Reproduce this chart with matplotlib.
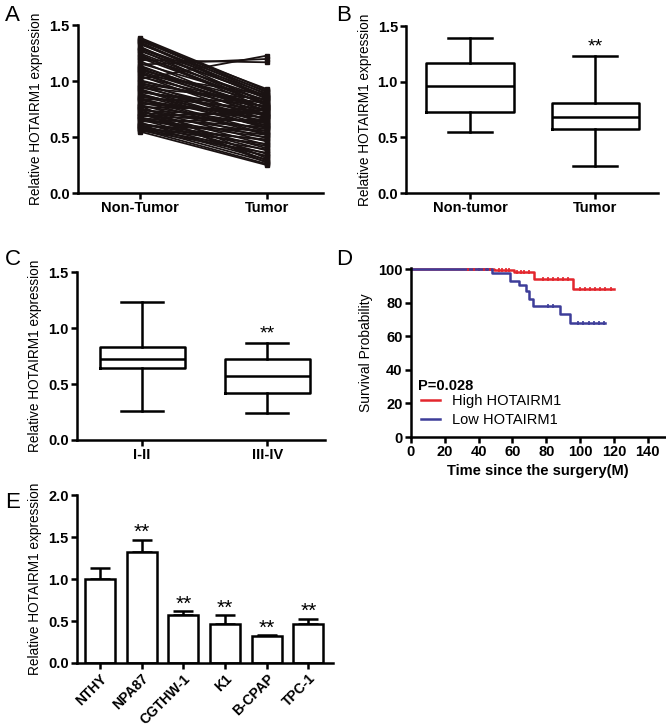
import matplotlib
matplotlib.use('Agg')
import matplotlib.pyplot as plt
import numpy as np

plt.rcParams['font.family'] = ['Liberation Sans', 'DejaVu Sans']
plt.rcParams['font.size'] = 10

# Panel A: paired samples
pair_labels = ['Non-Tumor', 'Tumor']
nontumor = [1.39, 1.38, 1.37, 1.36, 1.35, 1.34, 1.33, 1.31, 1.30, 1.28,
            1.27, 1.25, 1.24, 1.22, 1.21, 1.19, 1.18, 1.16, 1.15, 1.13,
            1.12, 1.10, 1.09, 1.08, 1.06, 1.05, 1.04, 1.02, 1.01, 0.99,
            0.98, 0.97, 0.95, 0.94, 0.93, 0.91, 0.90, 0.89, 0.88, 0.86,
            0.85, 0.84, 0.83, 0.82, 0.80, 0.79, 0.78, 0.77, 0.76, 0.75,
            0.74, 0.73, 0.72, 0.71, 0.70, 0.69, 0.68, 0.67, 0.66, 0.65,
            0.64, 0.63, 0.62, 0.61, 0.60, 0.59, 0.58, 0.57, 0.56, 0.55,
            1.29, 1.23, 1.14, 1.07, 1.00, 0.96, 0.87, 0.81, 0.78, 0.72,
            0.69, 0.66, 0.62, 0.60, 0.58, 0.57, 0.92, 0.84, 1.11, 0.75]
tumor = [0.92, 0.90, 0.88, 0.93, 0.86, 0.84, 0.91, 0.80, 0.89, 0.78,
         0.87, 0.82, 0.75, 0.85, 0.79, 1.17, 0.72, 0.83, 1.20, 0.76,
         0.70, 0.81, 0.74, 0.68, 0.88, 0.65, 0.77, 1.23, 0.73, 0.62,
         0.80, 0.69, 0.66, 0.84, 0.60, 0.71, 0.78, 0.58, 0.64, 0.75,
         0.55, 0.82, 0.67, 0.52, 0.70, 0.49, 0.61, 0.74, 0.46, 0.57,
         0.68, 0.43, 0.63, 0.40, 0.54, 0.72, 0.38, 0.59, 0.35, 0.50,
         0.66, 0.33, 0.47, 0.30, 0.56, 0.28, 0.44, 0.26, 0.36, 0.25,
         0.86, 0.79, 0.73, 0.69, 0.77, 0.62, 0.59, 0.71, 0.31, 0.29,
         0.64, 0.52, 0.42, 0.33, 0.48, 0.39, 0.58, 0.53, 0.76, 0.27]

# Panel B: box stats (min, q1, median, q3, max)
b_labels = ['Non-tumor', 'Tumor']
b_stats = [(0.55, 0.73, 0.96, 1.17, 1.39), (0.24, 0.58, 0.68, 0.81, 1.23)]

# Panel C: box stats by stage
c_labels = ['I-II', 'III-IV']
c_stats = [(0.26, 0.64, 0.72, 0.83, 1.23), (0.24, 0.42, 0.57, 0.72, 0.87)]

# Panel D: Kaplan-Meier steps
high_t = [0, 49, 61, 73, 96, 120]
high_s = [100, 99.3, 98.3, 94.3, 88.4, 88.4]
high_cens = [34, 37, 40, 43, 45, 47, 52, 54, 56, 58, 63, 65, 67, 70,
             78, 81, 84, 87, 90, 93, 100, 103, 106, 109, 112, 115, 118]
low_t = [0, 48, 58.5, 64, 68, 70, 72, 88, 94, 115]
low_s = [100, 97.5, 93, 90.5, 87, 82, 77.8, 73.5, 68, 68]
low_cens = [40, 45, 81, 84, 99, 102, 105, 108, 111, 114]

# Panel E: cell lines
cells = ['NTHY', 'NPA87', 'CGTHW-1', 'K1', 'B-CPAP', 'TPC-1']
cell_mean = [1.00, 1.32, 0.57, 0.47, 0.32, 0.46]
cell_err = [0.13, 0.15, 0.05, 0.10, 0.01, 0.07]
cell_sig = ['', '**', '**', '**', '**', '**']

red = '#e3262d'
blue = '#3d3d99'
ink = '#1a1212'

fig = plt.figure(figsize=(6.66, 7.26), dpi=100)


def style(ax):
    for s in ['top', 'right']:
        ax.spines[s].set_visible(False)
    for s in ['left', 'bottom']:
        ax.spines[s].set_linewidth(1.8)
    ax.tick_params(width=1.8, length=4, labelsize=10.5, pad=2)
    for lab in ax.get_xticklabels() + ax.get_yticklabels():
        lab.set_fontweight('bold')


def boxpanel(ax, stats, labels, xlim, width):
    bx = [dict(whislo=s[0], q1=s[1], med=s[2], q3=s[3], whishi=s[4], fliers=[])
          for s in stats]
    lp = dict(color='black', linewidth=1.8)
    ax.bxp(bx, positions=[0, 1], widths=width, showfliers=False,
           boxprops=lp, whiskerprops=lp, capprops=lp, medianprops=lp)
    ax.set_xlim(*xlim)
    ax.set_ylim(0, 1.5)
    ax.set_yticks([0, 0.5, 1.0, 1.5])
    ax.set_yticklabels(['0.0', '0.5', '1.0', '1.5'])
    ax.set_xticks([0, 1])
    ax.set_xticklabels(labels)
    ax.set_ylabel('Relative HOTAIRM1 expression', fontsize=9.8)


# A
axA = fig.add_axes([0.117, 0.734, 0.368, 0.231])
for a, b in zip(nontumor, tumor):
    axA.plot([0, 1], [a, b], color=ink, lw=1.3, marker='s', ms=3.5,
             solid_capstyle='butt')
axA.set_xlim(-0.49, 1.44)
axA.set_ylim(0, 1.5)
axA.set_yticks([0, 0.5, 1.0, 1.5])
axA.set_yticklabels(['0.0', '0.5', '1.0', '1.5'])
axA.set_xticks([0, 1])
axA.set_xticklabels(pair_labels)
axA.set_ylabel('Relative HOTAIRM1 expression', fontsize=9.8)
style(axA)

# B
axB = fig.add_axes([0.610, 0.734, 0.378, 0.230])
boxpanel(axB, b_stats, b_labels, (-0.51, 1.5), 0.7)
axB.text(1, b_stats[1][4] + 0.01, '**', ha='center', va='bottom', fontsize=14)
style(axB)

# C
axC = fig.add_axes([0.1156, 0.394, 0.372, 0.231])
boxpanel(axC, c_stats, c_labels, (-0.52, 1.46), 0.68)
axC.text(1, c_stats[1][4] + 0.0, '**', ha='center', va='bottom', fontsize=14)
style(axC)

# D
axD = fig.add_axes([0.617, 0.398, 0.381, 0.233])
axD.step(high_t, high_s, where='post', color=red, lw=1.8, label='High HOTAIRM1')
axD.step(low_t, low_s, where='post', color=blue, lw=1.8, label='Low HOTAIRM1')
hs = [high_s[np.searchsorted(high_t, t, side='right') - 1] for t in high_cens]
ls = [low_s[np.searchsorted(low_t, t, side='right') - 1] for t in low_cens]
axD.plot(high_cens, hs, ls='none', marker='|', ms=3.5, mew=1.2, color=red)
axD.plot(low_cens, ls, ls='none', marker='|', ms=3.5, mew=1.2, color=blue)
axD.set_xlim(0, 150)
axD.set_ylim(0, 100.8)
axD.set_xticks(np.arange(0, 141, 20))
axD.set_yticks(np.arange(0, 101, 20))
axD.set_xlabel('Time since the surgery(M)', fontsize=10.5, fontweight='bold',
               labelpad=3)
axD.set_ylabel('Survival Probability', fontsize=10)
axD.text(4, 30.5, 'P=0.028', fontsize=10.5, fontweight='bold', va='center')
leg = axD.legend(loc='lower left', bbox_to_anchor=(0.0, 0.0), frameon=False,
                 fontsize=10.5, handlelength=1.3, handletextpad=0.8,
                 labelspacing=0.35, borderaxespad=0.3)
style(axD)

# E
axE = fig.add_axes([0.1156, 0.0868, 0.385, 0.231])
x = np.arange(len(cells))
axE.bar(x, cell_mean, width=0.72, color='white', edgecolor='black', lw=1.8,
        zorder=2)
axE.errorbar(x, cell_mean, yerr=[np.zeros(len(cells)), cell_err], fmt='none',
             ecolor='black', elinewidth=1.8, capsize=7, capthick=1.8, zorder=1)
for xi, m, e, s in zip(x, cell_mean, cell_err, cell_sig):
    if s:
        axE.text(xi, m + e - 0.03, s, ha='center', va='bottom', fontsize=15)
axE.set_xlim(-0.55, 5.6)
axE.set_ylim(0, 2.0)
axE.set_yticks([0, 0.5, 1.0, 1.5, 2.0])
axE.set_yticklabels(['0.0', '0.5', '1.0', '1.5', '2.0'])
axE.set_xticks(x)
axE.set_xticklabels(cells, rotation=45, ha='right', rotation_mode='anchor')
axE.set_ylabel('Relative HOTAIRM1 expression', fontsize=9.8)
style(axE)
axE.tick_params(axis='x', labelsize=10)

for lab, px, py in [('A', 5, 5), ('B', 336, 5), ('C', 5, 249), ('D', 336, 249),
                    ('E', 5, 492)]:
    fig.text(px / 666, 1 - py / 726, lab, fontsize=16, va='top', ha='left')

fig.savefig('out.png', dpi=100)
